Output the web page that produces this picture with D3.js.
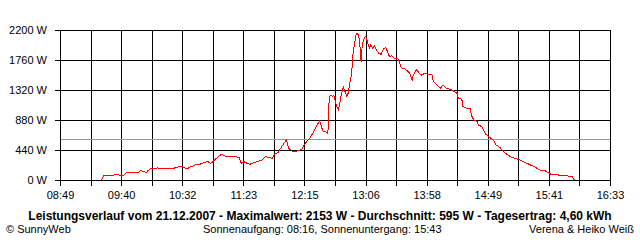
<!DOCTYPE html>
<html>
<head>
<meta charset="utf-8">
<script src="https://cdnjs.cloudflare.com/ajax/libs/d3/7.8.5/d3.min.js"></script>
<style>
  body { margin: 0; background: #fff; }
  text { font-family: "Liberation Sans", Arial, sans-serif; font-size: 11px; fill: #000; }
  .title { font-weight: bold; font-size: 12px; }
</style>
</head>
<body>
<div id="chart"></div>
<script>

// Leistung (W) ueber die Uhrzeit
var times = ["09:24","09:26","09:31","09:32","09:37","09:40","09:43","09:45","09:55","09:57",
  "10:00","10:02","10:03","10:06","10:10","10:11","10:14","10:18","10:25","10:27",
  "10:32","10:34","10:36","10:39","10:43","10:47","10:51","10:54","10:56","11:01",
  "11:05","11:08","11:14","11:20","11:22","11:24","11:27","11:29","11:32","11:35",
  "11:39","11:42","11:45","11:48","11:50","11:53","11:56","12:00","12:02","12:05",
  "12:07","12:10","12:13","12:15","12:17","12:20","12:23","12:26","12:28","12:30",
  "12:31","12:34","12:35","12:36","12:37","12:39","12:40","12:42","12:44","12:46",
  "12:48","12:49","12:51","12:52","12:54","12:55","12:56","12:58","12:59","13:01",
  "13:02","13:03","13:04","13:05","13:07","13:09","13:10","13:11","13:13","13:14",
  "13:16","13:18","13:20","13:22","13:24","13:25","13:27","13:29","13:31","13:34",
  "13:36","13:37","13:40","13:42","13:44","13:46","13:47","13:48","13:50","13:52",
  "13:54","13:57","13:59","14:03","14:04","14:07","14:10","14:12","14:15","14:18",
  "14:21","14:24","14:25","14:28","14:29","14:32","14:35","14:36","14:38","14:41",
  "14:42","14:45","14:48","14:50","14:52","14:55","14:57","15:00","15:03","15:06",
  "15:09","15:13","15:17","15:20","15:23","15:26","15:30","15:34","15:38","15:41",
  "15:44","15:47","15:51","15:56","16:01","16:03"];

var watts = [0,73,73,64,83,64,73,112,108,137,
  122,108,137,171,161,181,161,166,171,186,
  200,181,161,191,220,230,259,269,240,318,
  377,352,347,333,244,269,244,230,249,269,
  289,342,333,318,377,406,489,587,464,425,
  416,430,450,513,562,621,709,807,868,758,
  719,699,684,1149,1247,1222,1247,1100,1027,1222,
  1369,1320,1222,1271,1467,1540,1833,2053,2153,2127,
  1980,1735,1980,2053,2112,1980,1931,1980,1931,1970,
  1907,1858,1843,1931,1941,1892,1809,1823,1784,1784,
  1697,1647,1628,1599,1565,1460,1540,1565,1623,1565,
  1540,1565,1550,1540,1442,1393,1345,1393,1345,1330,
  1305,1271,1198,1183,1075,1051,1051,953,880,855,
  807,782,675,645,620,577,513,479,416,377,
  342,318,293,269,244,220,186,147,137,108,
  73,83,68,64,49,0];

var average = 595;

var xTickLabels = ["08:49","09:40","10:32","11:23","12:15","13:06","13:58","14:49","15:41","16:33"];
var yTicks = [0,440,880,1320,1760,2200];

var titleText = "Leistungsverlauf vom 21.12.2007 - Maximalwert: 2153 W - Durchschnitt: 595 W - Tagesertrag: 4,60 kWh";
var footLeft = "\u00A9 SunnyWeb";
var footMid = "Sonnenaufgang: 08:16, Sonnenuntergang: 15:43";
var footRight = "Verena & Heiko Wei\u00DF";

function toMin(s) {
    var p = s.split(":");
    return +p[0] * 60 + +p[1];
}

var data = times.map(function(t, i) { return { t: toMin(t), w: watts[i] }; });

var margin = { top: 30, right: 30, bottom: 60, left: 60 }
var w = 640 - margin.left - margin.right
var h = 240 - margin.top - margin.bottom

var tStart = toMin(xTickLabels[0]),
    tEnd = toMin(xTickLabels[xTickLabels.length - 1]);

var x = d3.scaleLinear().domain([tStart, tEnd]).range([0, w]),
    y = d3.scaleLinear().domain([0, 2200]).range([h, 0]);

var svg = d3.select('#chart').append('svg')
    .attr('width', 640)
    .attr('height', 240);

var g = svg.append('g')
    .attr('transform', 'translate(' + margin.left + ',' + margin.top + ')');

// 18 Teilungen, Beschriftung an jeder zweiten
var gridT = d3.range(19).map(function(i) { return tStart + i * (tEnd - tStart) / 18; });

g.selectAll('.vgrid')
    .data(gridT)
    .enter().append('line')
    .attr('class', 'vgrid')
    .attr('x1', function(d) { return Math.round(x(d)) + 0.5; })
    .attr('x2', function(d) { return Math.round(x(d)) + 0.5; })
    .attr('y1', 0)
    .attr('y2', h + 6)
    .attr('stroke', '#000')
    .attr('shape-rendering', 'crispEdges');

g.selectAll('.hgrid')
    .data(yTicks)
    .enter().append('line')
    .attr('class', 'hgrid')
    .attr('x1', -5)
    .attr('x2', w + 1)
    .attr('y1', function(d) { return Math.round(y(d)) + 0.5; })
    .attr('y2', function(d) { return Math.round(y(d)) + 0.5; })
    .attr('stroke', '#000')
    .attr('shape-rendering', 'crispEdges');

// Durchschnitt
g.append('line')
    .attr('x1', 1)
    .attr('x2', w)
    .attr('y1', Math.round(y(average)) + 0.5)
    .attr('y2', Math.round(y(average)) + 0.5)
    .attr('stroke', '#999')
    .attr('shape-rendering', 'crispEdges');

g.append('g')
    .attr('transform', 'translate(-10,0)')
    .call(d3.axisLeft(y).tickValues(yTicks).tickSize(0).tickFormat(function(d) { return d + ' W'; }))
    .call(function(a) {
        a.select('.domain').remove();
        a.selectAll('text').attr('font-family', null).attr('font-size', null);
    });
svg.selectAll('g > g').attr('fill', null);

g.append('g')
    .attr('transform', 'translate(0,' + (h + 8) + ')')
    .call(d3.axisBottom(x)
        .tickValues(gridT.filter(function(d, i) { return i % 2 === 0; }))
        .tickSize(0)
        .tickFormat(function(d, i) { return xTickLabels[i]; }))
    .call(function(a) {
        a.select('.domain').remove();
        a.selectAll('text').attr('font-family', null).attr('font-size', null);
    });

var line = d3.line()
    .x(function(d) { return x(d.t); })
    .y(function(d) { return y(d.w); });

g.append('path')
    .datum(data)
    .attr('d', line)
    .attr('fill', 'none')
    .attr('stroke', '#ff0000')
    .attr('stroke-width', 1)
    .attr('shape-rendering', 'crispEdges');

svg.append('text')
    .attr('class', 'title')
    .attr('x', 320)
    .attr('y', 220)
    .attr('text-anchor', 'middle')
    .text(titleText);

svg.append('text')
    .attr('x', 6)
    .attr('y', 233)
    .text(footLeft);

svg.append('text')
    .attr('x', 203)
    .attr('y', 233)
    .text(footMid);

svg.append('text')
    .attr('x', 634)
    .attr('y', 233)
    .attr('text-anchor', 'end')
    .text(footRight);

</script>
</body>
</html>
